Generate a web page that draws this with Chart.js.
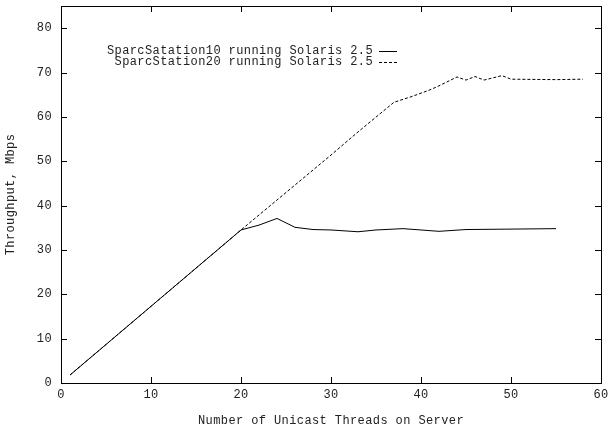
<!DOCTYPE html>
<html>
<head>
<meta charset="utf-8">
<script src="https://cdn.jsdelivr.net/npm/chart.js@4.4.1/dist/chart.umd.min.js"></script>
<style>
  html, body { margin: 0; padding: 0; background: #fff; }
  #wrap { width: 608px; height: 431px; }
</style>
</head>
<body>
<div id="wrap"><canvas id="chart"></canvas></div>
<script>
// Throughput vs. number of unicast threads
const threadsSS10 = [1, 20, 22, 24, 26, 28, 30, 33, 35, 38, 42, 45, 50, 55];
const mbpsSS10 = [1.8, 34.5, 35.6, 37.1, 35.1, 34.6, 34.5, 34.1, 34.5, 34.8, 34.2, 34.6, 34.7, 34.8];

const threadsSS20 = [1, 20, 30, 33, 37, 39, 41, 42, 44, 45, 46, 47, 49, 50, 55, 58];
const mbpsSS20 = [1.8, 34.5, 51.4, 56.6, 63.3, 64.6, 66.1, 67.0, 69.0, 68.3, 69.1, 68.3, 69.3, 68.5, 68.4, 68.5];

const xTicks = [0, 10, 20, 30, 40, 50, 60];
const yTicks = [0, 10, 20, 30, 40, 50, 60, 70, 80];

const legendLabels = ['SparcSatation10 running Solaris 2.5', 'SparcStation20 running Solaris 2.5'];
const legendDash = [[], [3, 2]];

const FONT = '"Liberation Mono", "DejaVu Sans Mono", monospace';

function toPoints(xs, ys) {
  return xs.map((x, i) => ({ x: x, y: ys[i] }));
}

// gnuplot style frame, inward ticks on all four sides, and the key
const gnuplotFrame = {
  id: 'gnuplotFrame',
  beforeDraw(chart) {
    chart.ctx.letterSpacing = '0.4px';
  },
  afterDraw(chart) {
    const ctx = chart.ctx;
    const a = chart.chartArea;
    const xs = chart.scales.x, ys = chart.scales.y;
    ctx.save();
    ctx.strokeStyle = '#000';
    ctx.lineWidth = 1;
    ctx.strokeRect(a.left + 0.5, a.top + 0.5, a.right - a.left, a.bottom - a.top);
    ctx.beginPath();
    xTicks.forEach(v => {
      const px = Math.round(xs.getPixelForValue(v)) + 0.5;
      ctx.moveTo(px, a.bottom); ctx.lineTo(px, a.bottom - 6);
      ctx.moveTo(px, a.top); ctx.lineTo(px, a.top + 6);
    });
    yTicks.forEach(v => {
      const py = Math.round(ys.getPixelForValue(v)) + 0.5;
      ctx.moveTo(a.left, py); ctx.lineTo(a.left + 6, py);
      ctx.moveTo(a.right, py); ctx.lineTo(a.right - 6, py);
    });
    ctx.stroke();

    // key
    ctx.font = '12px ' + FONT;
    ctx.fillStyle = '#222';
    ctx.textAlign = 'right';
    ctx.textBaseline = 'middle';
    const rows = [51, 62];
    legendLabels.forEach((t, i) => {
      ctx.fillText(t, 373, rows[i]);
      ctx.beginPath();
      ctx.setLineDash(legendDash[i]);
      ctx.moveTo(379, rows[i] + 0.5);
      ctx.lineTo(397, rows[i] + 0.5);
      ctx.stroke();
    });
    ctx.restore();
  }
};

new Chart(document.getElementById('chart'), {
  type: 'scatter',
  data: {
    datasets: [{
      label: legendLabels[0],
      data: toPoints(threadsSS10, mbpsSS10),
      showLine: true,
      borderColor: '#000',
      borderWidth: 1,
      pointRadius: 0,
      tension: 0
    }, {
      label: legendLabels[1],
      data: toPoints(threadsSS20, mbpsSS20),
      showLine: true,
      borderColor: '#000',
      borderWidth: 1,
      borderDash: [3, 2],
      pointRadius: 0,
      tension: 0
    }]
  },
  options: {
    responsive: true,
    maintainAspectRatio: false,
    animation: false,
    layout: { padding: { top: 6, right: 7, left: 0, bottom: 0 } },
    plugins: {
      legend: { display: false },
      tooltip: { enabled: false }
    },
    scales: {
      x: {
        type: 'linear',
        min: 0,
        max: 60,
        grid: { display: false, drawTicks: false },
        border: { display: false },
        afterBuildTicks: s => { s.ticks = xTicks.map(v => ({ value: v })); },
        afterFit: s => { s.height = 48; s.paddingLeft = 0; s.paddingRight = 0; },
        ticks: {
          padding: 5,
          color: '#222',
          font: { family: FONT, size: 12 },
          maxRotation: 0
        },
        title: {
          display: true,
          text: 'Number of Unicast Threads on Server',
          color: '#222',
          font: { family: FONT, size: 12 },
          padding: { top: 0, bottom: 3 }
        }
      },
      y: {
        type: 'linear',
        min: 0,
        max: 85,
        grid: { display: false, drawTicks: false },
        border: { display: false },
        afterBuildTicks: s => { s.ticks = yTicks.map(v => ({ value: v })); },
        afterFit: s => { s.width = 61; s.paddingTop = 0; s.paddingBottom = 0; },
        ticks: {
          padding: 9,
          color: '#222',
          font: { family: FONT, size: 12 }
        },
        title: {
          display: true,
          text: 'Throughput, Mbps',
          color: '#222',
          font: { family: FONT, size: 12 },
          padding: { top: 4, bottom: 0 }
        }
      }
    }
  },
  plugins: [gnuplotFrame]
});
</script>
</body>
</html>
